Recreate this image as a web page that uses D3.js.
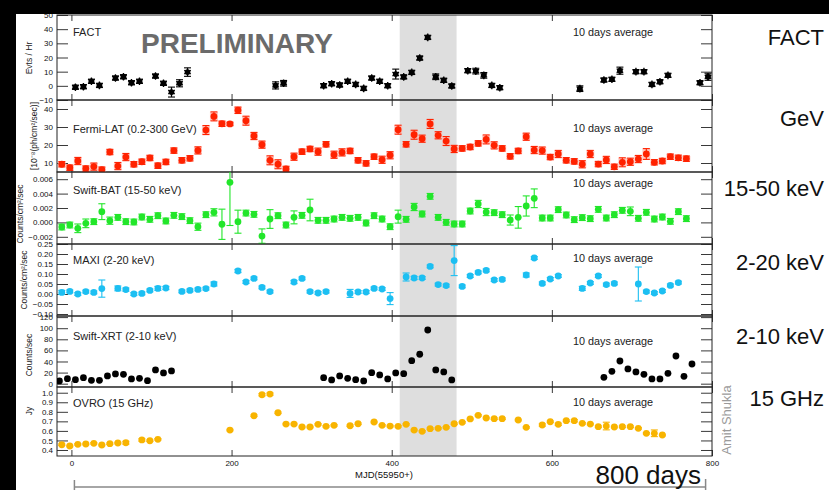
<!DOCTYPE html>
<html><head><meta charset="utf-8">
<script src="https://cdn.jsdelivr.net/npm/d3@7"></script>
<style>body{margin:0;background:#fff;}svg{display:block;font-family:"Liberation Sans",Arial,Helvetica,sans-serif;}</style>
</head><body><svg id="c" width="829" height="490"></svg>
<script>
// ---------------- DATA ----------------
const xTicks = [0, 200, 400, 600, 800];
const flareWindow = [410, 481];

const factDays = [5,15,25,35,55,65,75,85,105,115,125,135,145,255,265,315,325,335,345,355,365,375,385,395,405,415,425,435,445,455,465,475,495,505,515,525,535,635,665,675,685,705,715,725,735,745,785,795];
const factVals = [-1.0,-0.6,3.2,0.3,5.5,6.4,2.2,3.2,6.9,1.8,-4.4,1.8,9.7,0.3,1.8,0.1,1.5,0.6,3.2,1.0,-1.8,5.5,3.2,0.1,8.3,6.3,9.5,19.6,34.2,6.4,3.9,-0.1,10.7,10.4,7.4,0.3,-1.3,-2.0,4.1,4.6,10.7,10.0,10.0,1.0,2.9,7.4,2.2,6.4];
const factErr  = [1.5,1.5,1.5,1.5,1.5,1.5,1.5,1.5,1.5,1.5,3.5,2.5,3,2.5,2,1.5,1.5,1.5,1.5,1.5,1.5,1.5,1.5,1.5,3.5,1.5,1.5,1.5,1.5,2,1.5,1.5,1.5,2,2,1.5,1.5,2,1.5,1.5,2.5,1.5,1.5,1.5,1.5,1.5,1.5,2.5];
const factTicks = [-10,0,10,20,30,40,50];

const latDays = [-12,-2,8,18,28,38,48,58,68,78,88,98,108,118,128,138,148,158,168,178,188,198,208,218,228,238,248,258,268,278,288,298,308,318,328,338,348,358,368,378,388,398,408,418,428,438,448,458,468,478,488,498,508,518,528,538,548,558,568,578,588,598,608,618,628,638,648,658,668,678,688,698,708,718,728,738,748,758,768];
const latVals = [9.3,7.4,11.1,6.9,8.0,6.3,16.1,8.3,13.3,9.3,10.7,12.8,8.5,10.6,16.9,11.5,12.6,17.0,28.3,35.9,31.8,31.7,39.3,33.5,25.0,20.2,11.5,9.3,6.7,13.5,16.3,17.8,16.3,20.4,14.6,15.9,16.7,11.5,9.8,13.5,11.8,14.3,28.5,20.4,25.7,23.5,31.7,25.4,22.2,17.8,18.1,18.9,20.9,23.1,19.8,18.1,13.7,16.7,24.6,17.2,16.9,13.3,15.0,11.5,10.9,9.3,15.0,9.4,11.7,7.9,10.4,10.7,12.2,15.0,10.4,11.1,13.5,12.9,12.4];
const latErr  = [1.5,1.5,2,1.5,2,1.5,1.5,2,2,1.5,1.5,1.5,1.5,1.5,1.5,1.5,1.5,2,2.5,2.5,1.5,1,1.8,2.5,2,2,2.5,2.5,1.5,2,1.5,1.5,2,1.5,2,2,1.5,1.5,1.5,1.5,2,2,2.5,1.5,2.5,2,2.5,2,2.5,2,1.5,1.5,1.5,2.5,2,1.5,1.5,1.5,2,2,2,1.5,2,1.5,1.5,2,2,1.5,2,1.5,2.5,2,2,3,1.5,1.5,1.5,1.5,1.5];
const latTicks = [10,20,30,40];

const batDays = latDays;
const batVals = [-0.00064,-0.00036,-0.00082,-0.00013,0.0001,0.00149,0.00024,0.0007,0.0001,0.00006,0.00075,0.00043,0.00093,0.0002,0.00098,0.0008,0.00024,-0.0006,0.00107,0.0014,-0.00026,0.00557,0.0001,0.0013,0.00112,-0.0019,0.00047,0.00093,-0.00036,0.0007,0.00098,0.00172,0.00029,0.00029,0.00047,0.0007,0.00057,0.0007,-0.00008,0.00093,0.00047,-0.0006,0.0008,0.00043,0.00214,0.00117,0.00362,0.0007,0.00001,-0.00022,-0.00022,0.00158,0.00256,0.00144,0.00135,0.00107,0.00033,0.0007,0.00228,0.00335,0.00061,0.00061,0.00177,0.00103,0.00038,0.00066,0.00052,0.00181,0.00061,0.00107,0.00168,0.00154,0.00057,0.0014,0.00047,0.00075,0.00015,0.00149,0.00052];
const batErr  = [0.0004,0.0004,0.0006,0.0006,0.0004,0.0011,0.0005,0.0004,0.0004,0.0004,0.0004,0.0004,0.0004,0.0004,0.0004,0.0004,0.0004,0.0005,0.0004,0.0005,0.0021,0.006,0.0016,0.0004,0.0004,0.001,0.0013,0.0004,0.0004,0.0009,0.0004,0.0015,0.0004,0.0004,0.0004,0.0004,0.0004,0.0004,0.0004,0.0004,0.0004,0.0004,0.0009,0.0004,0.0005,0.0004,0.0004,0.0004,0.0004,0.0004,0.0004,0.0004,0.0005,0.0005,0.0004,0.0004,0.0007,0.0015,0.0014,0.0013,0.0004,0.0004,0.0004,0.0004,0.0004,0.0004,0.0004,0.0004,0.0004,0.0004,0.0004,0.0006,0.0004,0.0004,0.0004,0.0004,0.0004,0.0004,0.0004];
const batTicks = [-0.002,0.000,0.002,0.004,0.006];

const maxiDays = [-12,-2,8,18,28,38,58,68,78,88,98,108,118,138,148,158,168,178,208,218,228,238,248,278,288,298,308,318,348,358,368,378,388,398,418,428,438,448,458,468,478,488,498,508,518,528,538,568,578,588,598,608,638,648,658,668,678,708,718,728,738,748,758];
const maxiVals = [0.008,0.013,0.0,0.012,0.008,0.027,0.028,0.022,0.0,0.003,0.018,0.028,0.03,0.013,0.018,0.023,0.027,0.05,0.115,0.06,0.078,0.033,0.012,0.06,0.078,0.012,0.005,0.012,0.003,0.01,0.01,0.028,0.025,-0.023,0.085,0.08,0.08,0.138,0.047,0.042,0.167,0.038,0.09,0.108,0.118,0.07,0.073,0.095,0.18,0.053,0.075,0.09,0.028,0.055,0.09,0.047,0.053,0.05,0.012,0.005,0.015,0.043,0.057];
const maxiErr  = [0.01,0.007,0.007,0.007,0.007,0.043,0.012,0.008,0.007,0.007,0.007,0.01,0.008,0.007,0.007,0.007,0.007,0.01,0.008,0.007,0.007,0.007,0.007,0.008,0.007,0.007,0.007,0.007,0.02,0.007,0.007,0.007,0.007,0.03,0.02,0.008,0.007,0.007,0.007,0.007,0.075,0.007,0.007,0.007,0.007,0.007,0.007,0.01,0.007,0.007,0.007,0.007,0.01,0.007,0.007,0.007,0.007,0.085,0.007,0.007,0.007,0.007,0.007];
const maxiTicks = [-0.10,-0.05,0.00,0.05,0.10,0.15,0.20,0.25];

const xrtDays = [-15,-5,5,15,25,35,45,55,65,75,85,95,105,115,125,315,325,335,345,355,365,375,385,395,405,415,425,435,445,455,465,475,665,675,685,695,705,715,725,735,745,755,765,775];
const xrtVals = [4.9,9,7.2,10.8,6.1,6.1,13.9,17.5,16.9,8.5,9.7,5.4,24.7,19.3,22.9,10.8,6.7,13.9,9.7,7.2,4.9,19.8,15.7,8.5,19.3,18,41.5,53,96.8,24.7,21.1,6.7,11.5,22.3,40.9,26.5,21.1,16.9,8.5,8.5,18.7,49.9,13.3,35.5];
const xrtTicks = [0,20,40,60,80,100,120];

const ovroDays = [-12,-2,8,18,28,38,48,58,68,88,98,108,198,228,238,248,258,268,278,288,298,308,318,328,348,358,378,388,398,408,418,428,438,448,458,468,478,488,498,508,518,528,538,558,568,588,598,608,618,628,638,648,658,668,678,688,698,708,718,728,738];
const ovroVals = [0.455,0.442,0.459,0.463,0.47,0.452,0.466,0.473,0.476,0.505,0.497,0.512,0.609,0.759,0.979,0.986,0.79,0.672,0.672,0.641,0.641,0.669,0.648,0.658,0.654,0.675,0.693,0.658,0.651,0.648,0.669,0.609,0.596,0.623,0.627,0.637,0.675,0.69,0.725,0.763,0.735,0.728,0.728,0.714,0.637,0.662,0.696,0.669,0.707,0.707,0.679,0.672,0.644,0.651,0.641,0.644,0.644,0.627,0.575,0.575,0.557];
const ovroErr  = [0.008,0.008,0.008,0.008,0.008,0.008,0.008,0.008,0.015,0.012,0.008,0.008,0.008,0.008,0.012,0.012,0.008,0.008,0.008,0.008,0.008,0.008,0.008,0.008,0.008,0.008,0.008,0.008,0.008,0.008,0.008,0.008,0.008,0.008,0.008,0.008,0.008,0.008,0.008,0.008,0.008,0.008,0.008,0.008,0.008,0.012,0.008,0.012,0.008,0.012,0.008,0.008,0.008,0.04,0.008,0.008,0.008,0.008,0.008,0.035,0.008];
const ovroTicks = [0.4,0.5,0.6,0.7,0.8,0.9,1.0];

const rightLabels = ["FACT","GeV","15-50 keV","2-20 keV","2-10 keV","15 GHz"];

// ---------------- DRAW ----------------
const W = 829, H = 490;
const svg = d3.select("#c");
svg.append("rect").attr("width", W).attr("height", H).attr("fill", "#fff");

const L = 57, R = 712;
const x = d3.scaleLinear().domain([-18, 800]).range([L, R]);

const panels = [
  {id:"fact", top:15, bot:100, dom:[-10,50], ticks:factTicks, step:2, fmt:d3.format("d"),
   days:factDays, vals:factVals, err:factErr, color:"#000", kind:"star",
   name:"FACT", nameY:36, avgY:36, title:"Evts / Hr", tx:32, ty:58, rl:45},
  {id:"lat", top:100, bot:172, dom:[5,45], ticks:latTicks, step:2, fmt:d3.format("d"),
   days:latDays, vals:latVals, err:latErr, color:"#ff2200", kind:"lat",
   name:"Fermi-LAT (0.2-300 GeV)", nameY:133, avgY:132, title:"[10\u207B\u2078(ph/cm\u00B2/sec)]", tx:37, ty:136, rl:126},
  {id:"bat", top:172, bot:244, dom:[-0.003,0.007], ticks:batTicks, step:0.0004, fmt:d3.format(".3f"),
   days:batDays, vals:batVals, err:batErr, color:"#22e62a", kind:"dot",
   name:"Swift-BAT (15-50 keV)", nameY:194, avgY:187, title:"Counts/cm\u00B2/sec", tx:23, ty:214, rl:196},
  {id:"maxi", top:244, bot:316, dom:[-0.11,0.25], ticks:maxiTicks, step:0.01, fmt:d3.format(".2f"),
   days:maxiDays, vals:maxiVals, err:maxiErr, color:"#1cbff2", kind:"dot",
   name:"MAXI (2-20 keV)", nameY:264, avgY:262, title:"Counts/cm\u00B2/sec", tx:27, ty:280, rl:270},
  {id:"xrt", top:316, bot:387, dom:[-6,122], ticks:xrtTicks, step:4, fmt:d3.format("d"),
   days:xrtDays, vals:xrtVals, err:null, color:"#000", kind:"dot",
   name:"Swift-XRT (2-10 keV)", nameY:340, avgY:345, title:"Counts/sec", tx:32, ty:355, rl:344},
  {id:"ovro", top:387, bot:456, dom:[0.337,1.06], ticks:ovroTicks, step:0.02, fmt:d3.format(".1f"),
   days:ovroDays, vals:ovroVals, err:ovroErr, color:"#f8b400", kind:"dot",
   name:"OVRO (15 GHz)", nameY:407, avgY:406, title:"Jy", tx:32, ty:411, rl:406}
];

// flare shading
svg.append("rect")
  .attr("x", x(flareWindow[0])).attr("y", 15)
  .attr("width", x(flareWindow[1]) - x(flareWindow[0])).attr("height", 456 - 15)
  .attr("fill", "#dedede");

const defs = svg.append("defs");
const xMinor = d3.range(0, 801, 50);

panels.forEach((p, i) => {
  const y = d3.scaleLinear().domain(p.dom).range([p.bot, p.top]);
  const g = svg.append("g");
  defs.append("clipPath").attr("id", "clip-" + p.id)
    .append("rect").attr("x", L).attr("y", p.top).attr("width", R - L).attr("height", p.bot - p.top);

  const mn = [];
  const start = Math.ceil(p.dom[0] / p.step - 1e-6);
  for (let k = start; k * p.step <= p.dom[1] + 1e-9; k++) mn.push(k * p.step);

  const la = g.append("g").attr("transform", `translate(${L},0)`);
  la.call(d3.axisLeft(y).tickValues(mn).tickSize(-6).tickFormat(""));
  la.call(d3.axisLeft(y).tickValues(p.ticks).tickSize(-11).tickPadding(4).tickFormat(p.fmt));
  const ra = g.append("g").attr("transform", `translate(${R},0)`);
  ra.call(d3.axisRight(y).tickValues(mn).tickSize(-6).tickFormat(""));
  ra.call(d3.axisRight(y).tickValues(p.ticks).tickSize(-11).tickFormat(""));
  const ba = g.append("g").attr("transform", `translate(0,${p.bot})`);
  ba.call(d3.axisBottom(x).tickValues(xMinor).tickSize(-4).tickFormat(""));
  ba.call(d3.axisBottom(x).tickValues(xTicks).tickSize(-6).tickPadding(4)
     .tickFormat(i === panels.length - 1 ? d3.format("d") : ""));
  const ta = g.append("g").attr("transform", `translate(0,${p.top})`);
  ta.call(d3.axisTop(x).tickValues(xMinor).tickSize(-4).tickFormat(""));
  ta.call(d3.axisTop(x).tickValues(xTicks).tickSize(-6).tickFormat(""));

  g.selectAll(".domain").remove();
  g.selectAll(".tick line").attr("stroke", "#222").attr("stroke-width", 0.9);
  g.selectAll(".tick text").attr("font-size", 8).attr("fill", "#111")
    .attr("font-family", '"Liberation Sans",Arial,sans-serif');

  g.append("rect").attr("x", L).attr("y", p.top).attr("width", R - L).attr("height", p.bot - p.top)
    .attr("fill", "none").attr("stroke", "#222").attr("stroke-width", 1);

  g.append("text").attr("x", 73).attr("y", p.nameY).attr("font-size", 11).attr("fill", "#222").text(p.name);
  g.append("text").attr("x", 573).attr("y", p.avgY).attr("font-size", 10).attr("fill", "#222")
    .attr("textLength", 80).attr("lengthAdjust", "spacingAndGlyphs").text("10 days average");
  g.append("text").attr("transform", `translate(${p.tx},${p.ty}) rotate(-90)`)
    .attr("text-anchor", "middle").attr("font-size", 8.5).attr("fill", "#222").text(p.title);
  svg.append("text").attr("x", 824).attr("y", p.rl).attr("text-anchor", "end")
    .attr("font-size", 22).attr("fill", "#111").text(rightLabels[i]);

  const data = p.days.map((d, k) => ({d, v: p.vals[k], e: p.err ? p.err[k] : 0}));
  const dg = g.append("g").attr("clip-path", `url(#clip-${p.id})`);
  if (p.err) {
    if (p.kind === "lat") {
      dg.selectAll("rect.halo").data(data).join("rect")
        .attr("x", d => x(d.d) - 4).attr("width", 8)
        .attr("y", d => y(d.v + d.e)).attr("height", d => y(d.v - d.e) - y(d.v + d.e))
        .attr("fill", "#ffb4aa").attr("opacity", 0.7);
    }
    dg.selectAll("line.eb").data(data).join("line")
      .attr("x1", d => x(d.d)).attr("x2", d => x(d.d))
      .attr("y1", d => y(d.v - d.e)).attr("y2", d => y(d.v + d.e))
      .attr("stroke", p.color).attr("stroke-width", 1.1);
    ["lo", "hi"].forEach(s => {
      dg.selectAll("line.cap" + s).data(data).join("line")
        .attr("x1", d => x(d.d) - 3.5).attr("x2", d => x(d.d) + 3.5)
        .attr("y1", d => y(s === "lo" ? d.v - d.e : d.v + d.e))
        .attr("y2", d => y(s === "lo" ? d.v - d.e : d.v + d.e))
        .attr("stroke", p.color).attr("stroke-width", 1.1);
    });
  }
  if (p.kind === "star") {
    dg.selectAll("path.m").data(data).join("path")
      .attr("transform", d => `translate(${x(d.d)},${y(d.v)})`)
      .attr("d", d3.symbol(d3.symbolAsterisk, 40)).attr("stroke", "#000").attr("stroke-width", 1.3).attr("fill", "none");
    dg.selectAll("circle.m").data(data).join("circle")
      .attr("cx", d => x(d.d)).attr("cy", d => y(d.v)).attr("r", 2.9).attr("fill", "#000");
  } else {
    dg.selectAll("circle.m").data(data).join("circle")
      .attr("cx", d => x(d.d)).attr("cy", d => y(d.v)).attr("r", 3.4).attr("fill", p.color);
  }
});

svg.append("text").attr("x", 141).attr("y", 53).attr("font-size", 28).attr("font-weight", "bold")
  .attr("fill", "#6b6b6b").text("PRELIMINARY");

svg.append("text").attr("x", 384).attr("y", 478).attr("text-anchor", "middle")
  .attr("font-size", 9.5).attr("fill", "#111").text("MJD(55950+)");

const br = svg.append("g").attr("stroke", "#888").attr("stroke-width", 1.5);
br.append("line").attr("x1", x(0) + 3).attr("x2", x(792)).attr("y1", 487).attr("y2", 487);
br.append("line").attr("x1", x(0) + 3).attr("x2", x(0) + 3).attr("y1", 480).attr("y2", 490);
br.append("line").attr("x1", x(792)).attr("x2", x(792)).attr("y1", 479).attr("y2", 490);
svg.append("text").attr("x", 701).attr("y", 484).attr("text-anchor", "end")
  .attr("font-size", 26).attr("fill", "#111").text("800 days");

svg.append("text").attr("transform", "translate(731,420) rotate(-90)").attr("text-anchor", "middle")
  .attr("font-size", 13).attr("fill", "#9a9a9a").text("Amit Shukla");

svg.append("rect").attr("x", 0).attr("y", 0).attr("width", W).attr("height", 14).attr("fill", "#000");
svg.append("rect").attr("x", 0).attr("y", 0).attr("width", 16).attr("height", H).attr("fill", "#000");
</script></body></html>
